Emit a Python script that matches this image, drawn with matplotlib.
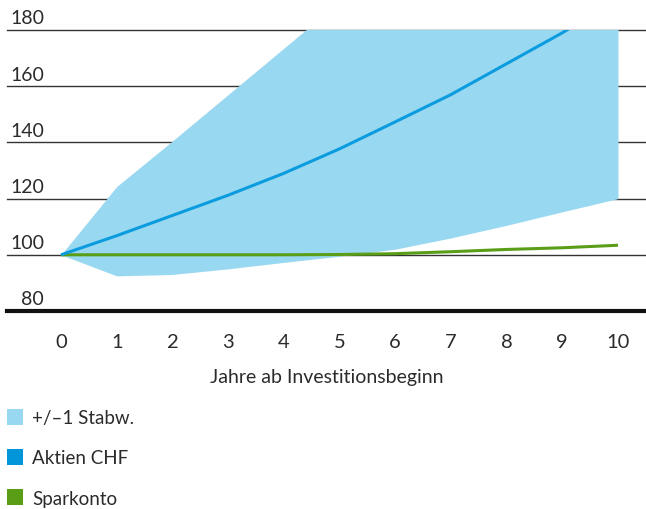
import matplotlib.pyplot as plt
from matplotlib.patches import Patch
from matplotlib.transforms import blended_transform_factory

plt.rcParams['font.family'] = ['Lato', 'DejaVu Sans']

# data
years = [0, 1, 2, 3, 4, 5, 6, 7, 8, 9, 10]
band_upper = [100, 124.3, 140.5, 157, 173.5, 190, 206, 222, 238, 254, 270]
band_lower = [100, 92.5, 93.0, 95.0, 97.3, 99.5, 102.0, 106.0, 110.5, 115.3, 120.0]
aktien = [100, 106.8, 114.0, 121.2, 129.0, 137.7, 147.3, 157.0, 168.0, 179.0, 191.0]
sparkonto = [100, 100, 100, 100, 100, 100.1, 100.4, 101.1, 101.9, 102.5, 103.4]
grid_values = [100, 120, 140, 160, 180]
ytick_values = [80, 100, 120, 140, 160, 180]
labels = ['+/\u20131 Stabw.', 'Aktien CHF', 'Sparkonto']

c_band = '#99d8f1'
c_aktien = '#0a9cdf'
c_spar = '#5a9e18'
c_text = '#2b2b2b'

W, H = 646, 510
fig = plt.figure(figsize=(W / 100, H / 100), dpi=100)
ax = fig.add_axes([7 / W, 1 - 312 / H, (646 - 7) / W, (312 - 31) / H])

ax.set_ylim(80, 180)
x0, x1 = 61, 618
ppu = (x1 - x0) / 10
ax.set_xlim((7 - x0) / ppu, (646 - x0) / ppu)

for v in grid_values:
    ax.axhline(v, color='#333333', lw=1.0, zorder=1, clip_on=False)
ax.axhline(80, color='#111111', lw=3.0, zorder=5, clip_on=False)

ax.fill_between(years, band_lower, band_upper, color=c_band, lw=0, zorder=2)
ax.plot(years, aktien, color=c_aktien, lw=2.2, zorder=4, solid_capstyle='butt')
ax.plot(years, sparkonto, color=c_spar, lw=2.2, zorder=3, solid_capstyle='butt')

for s in ax.spines.values():
    s.set_visible(False)

trans = blended_transform_factory(ax.transAxes, ax.transData)
for v in ytick_values:
    ax.text(37 / (646 - 7), v + 1.3, str(v), transform=trans, ha='right', va='bottom',
            fontsize=14, color=c_text)
ax.set_yticks([])

ax.set_xticks(years)
ax.set_xticklabels([str(y) for y in years], fontsize=14.5, color=c_text)
ax.tick_params(axis='x', length=0, pad=16)
ax.set_xlabel('Jahre ab Investitionsbeginn', fontsize=14, color=c_text, labelpad=13)

handles = [Patch(facecolor=c_band, edgecolor='none'),
           Patch(facecolor='#0096d9', edgecolor='none'),
           Patch(facecolor='#5a9e18', edgecolor='none')]
leg = fig.legend(handles, labels, loc='upper left', bbox_to_anchor=(7 / W, 1 - 410 / H),
                 frameon=False, fontsize=13.5, handlelength=0.85, handleheight=0.9,
                 handletextpad=0.5, labelspacing=1.22, borderaxespad=0, borderpad=0)
for t in leg.get_texts():
    t.set_color(c_text)

fig.savefig('out.png', dpi=100)
